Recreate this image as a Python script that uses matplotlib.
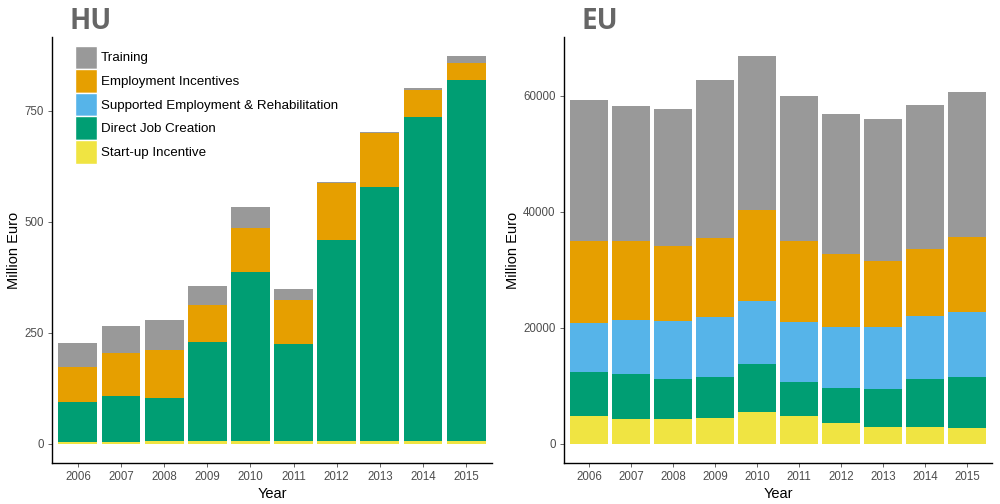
import numpy as np
import matplotlib
matplotlib.use("Agg")
import matplotlib.pyplot as plt
from matplotlib.patches import Patch

plt.rcParams["font.family"] = ["Liberation Sans", "DejaVu Sans"]

years = ["2006", "2007", "2008", "2009", "2010", "2011", "2012", "2013", "2014", "2015"]
categories = ["Start-up Incentive", "Direct Job Creation",
              "Supported Employment & Rehabilitation", "Employment Incentives", "Training"]
colors = ["#F0E442", "#009E73", "#56B4E9", "#E69F00", "#999999"]

# Hungary, million euro
hu_startup = [3, 3, 7, 5, 7, 7, 5, 5, 7, 5]
hu_direct = [90, 104, 95, 223, 379, 217, 453, 573, 728, 813]
hu_supported = [0, 0, 0, 0, 0, 0, 0, 0, 0, 0]
hu_incentives = [79, 98, 108, 84, 99, 99, 129, 121, 61, 38]
hu_training = [54, 59, 68, 44, 47, 25, 2, 2, 4, 16]

# EU, million euro
eu_startup = [4780, 4260, 4260, 4430, 5470, 4780, 3570, 2880, 2880, 2710]
eu_direct = [7580, 7760, 6890, 7120, 8270, 5860, 6030, 6550, 8270, 8840]
eu_supported = [8500, 9310, 10060, 10350, 10910, 10340, 10570, 10740, 10870, 11150]
eu_incentives = [14140, 13670, 12870, 13560, 15640, 14020, 12480, 11330, 11600, 12990]
eu_training = [24250, 23220, 23620, 27240, 26550, 24940, 24190, 24480, 24770, 24940]

hu = [hu_startup, hu_direct, hu_supported, hu_incentives, hu_training]
eu = [eu_startup, eu_direct, eu_supported, eu_incentives, eu_training]

fig = plt.figure(figsize=(10, 5.04), dpi=100)
W, H = 1000, 504
ax_hu = fig.add_axes([52 / W, (H - 463) / H, 440 / W, 426 / H])
ax_eu = fig.add_axes([564 / W, (H - 463) / H, 428 / W, 426 / H])


def draw(ax, series, ticks, title, title_x):
    x = np.arange(1, len(years) + 1)
    bottom = np.zeros(len(years))
    for vals, c in zip(series, colors):
        v = np.array(vals, dtype=float)
        ax.bar(x, v, bottom=bottom, width=0.9, color=c, linewidth=0)
        bottom += v
    top = bottom.max()
    ax.set_xlim(0.4, len(years) + 0.6)
    ax.set_ylim(-0.05 * top, top * 1.05)
    ax.set_xticks(x)
    ax.set_xticklabels(years)
    ax.set_yticks(ticks)
    ax.tick_params(labelsize=8.3, colors="#4d4d4d", length=3, width=0.6, pad=3)
    for s in ["top", "right"]:
        ax.spines[s].set_visible(False)
    for s in ["left", "bottom"]:
        ax.spines[s].set_linewidth(1.0)
        ax.spines[s].set_color("black")
    ax.set_xlabel("Year", fontsize=10.5, labelpad=3)
    ax.set_ylabel("Million Euro", fontsize=10.5, labelpad=2)
    fig.text(title_x / W, 1 - 29 / H, title, fontsize=20, fontweight="bold",
             color="#666666", va="baseline", ha="left", family="Open Sans")


draw(ax_hu, hu, [0, 250, 500, 750], "HU", 69)
draw(ax_eu, eu, [0, 20000, 40000, 60000], "EU", 582)

handles = [Patch(facecolor=c, edgecolor="white", linewidth=1) for c in colors][::-1]
ax_hu.legend(handles, categories[::-1], loc="upper left",
             bbox_to_anchor=(0.053, 0.98), frameon=False, fontsize=9.6,
             handlelength=1.6, handleheight=2.35, labelspacing=0.0,
             handletextpad=0.3, borderpad=0, borderaxespad=0)

fig.savefig("out.png", dpi=100)
